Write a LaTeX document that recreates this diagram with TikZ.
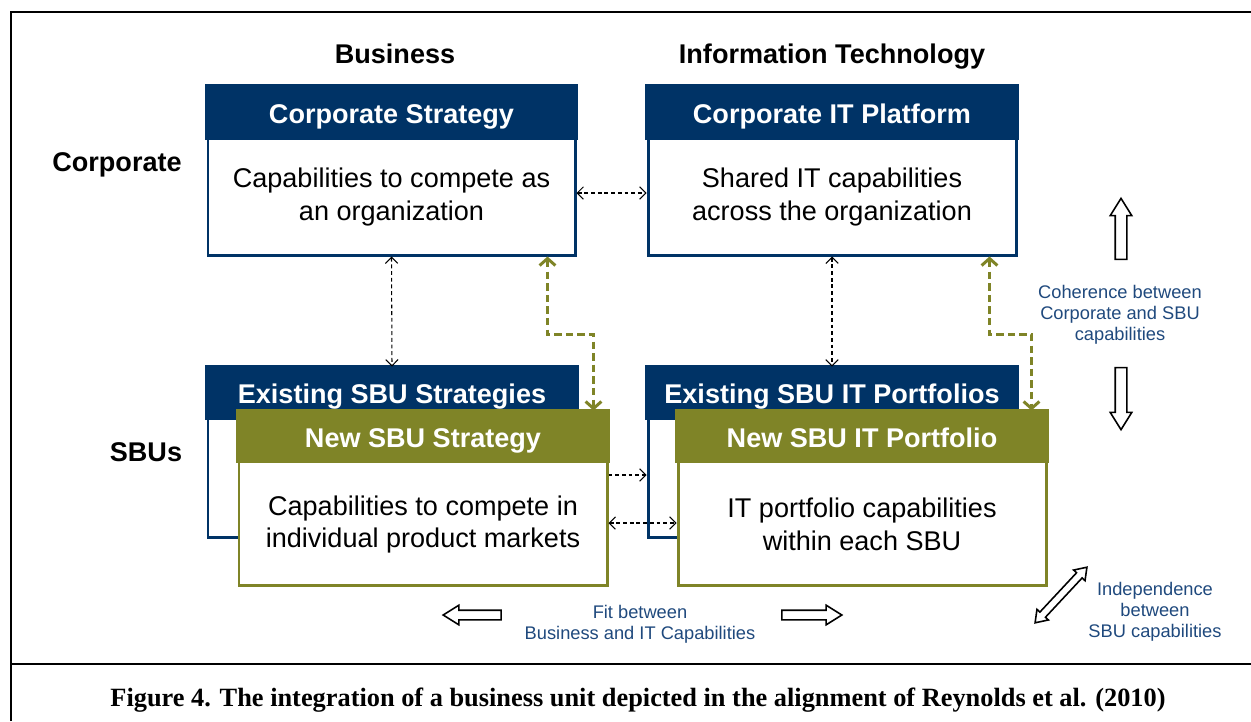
\documentclass[tikz,border=0pt]{standalone}
\usepackage{fontspec}
\setmainfont{Liberation Sans}
\newfontfamily\capfont{Liberation Serif}
\usetikzlibrary{arrows.meta,shapes.arrows,calc}
\definecolor{navy}{RGB}{0,51,102}
\definecolor{olivegr}{RGB}{127,132,39}
\definecolor{lblue}{RGB}{31,73,125}
\tikzset{
  x=0.02cm, y=-0.02cm,
  boxst/.style={draw, line width=1.7pt, fill=white, inner sep=0pt},
  titlest/.style={text=white, anchor=base, font=\fontsize{15.4}{18.7}\selectfont\bfseries},
  bodyst/.style={align=center, font=\fontsize{15.4}{18.7}\selectfont},
  headst/.style={anchor=base, font=\fontsize{15.4}{18.7}\selectfont\bfseries},
  notest/.style={align=center, text=lblue, font=\fontsize{10.4}{12}\selectfont},
  thin/.style={black, line width=0.6pt, dash pattern=on 2.2pt off 1.6pt, {Straight Barb[length=3.5pt,width=7pt]}-{Straight Barb[length=3.5pt,width=7pt]}},
  thinr/.style={black, line width=0.6pt, dash pattern=on 2.2pt off 1.6pt, -{Straight Barb[length=3.5pt,width=7pt]}},
  grn/.style={olivegr, line width=1.7pt, dash pattern=on 4.2pt off 2.4pt, {Straight Barb[length=4pt,width=9pt]}-{Straight Barb[length=4pt,width=9pt]}},
  fat/.style={single arrow, draw=black, fill=white, line width=0.9pt, inner sep=0.1cm, single arrow head extend=0.1cm, single arrow tip angle=64},
  fatd/.style={double arrow, draw=black, fill=white, line width=0.9pt, inner sep=0.06cm, double arrow head extend=0.08cm, double arrow tip angle=70},
}
% #1 name, #2 center, #3 width px, #4 height px, #5 colour, #6 title, #7 body, #8 header height px
\newcommand\mybox[8]{%
  \node[boxst, draw=#5, minimum width=#3*0.02cm, minimum height=#4*0.02cm] (#1) at #2 {};
  \filldraw[#5, line width=1.7pt] (#1.north west) rectangle ($(#1.north east)+(0,#8)$);
  \node[titlest] at ($(#1.north)+(0,#8*0.72)$) {#6};
  \node[bodyst] at ($(#1.center)+(0,26)$) {#7};
}
\begin{document}
\begin{tikzpicture}
\useasboundingbox (0,0) rectangle (1251,721);
% frame
\draw[line width=1.3pt] (11,721) -- (11,12) -- (1251,12);
\draw[line width=1.3pt] (11,664) -- (1251,664);
% headings
\node[headst] (hb) at (395,63) {Business};
\node[headst] (hit) at (832,63) {Information Technology};
\node[headst] (hc) at (117,171) {Corporate};
\node[headst] (hs) at (146,461) {SBUs};
% boxes
\mybox{cs}{(391.5,171)}{367}{168}{navy}{Corporate Strategy}{Capabilities to compete as\\an organization}{53}
\mybox{cit}{(832,171)}{368}{168}{navy}{Corporate IT Platform}{Shared IT capabilities\\across the organization}{53}
\mybox{es}{(392,452.5)}{368}{169}{navy}{Existing SBU Strategies}{}{52}
\mybox{eit}{(832,452.5)}{368}{169}{navy}{Existing SBU IT Portfolios}{}{52}
\mybox{ns}{(423,498.5)}{368}{173}{olivegr}{New SBU Strategy}{Capabilities to compete in\\individual product markets}{51}
\mybox{nit}{(862,498.5)}{368}{173}{olivegr}{New SBU IT Portfolio}{IT portfolio capabilities\\within each SBU}{51}
% thin connectors
\draw[thin] ($(cs.east)+(0,22)$) -- ($(cit.west)+(0,22)$);
\draw[thin] (cs.south) -- (es.north);
\draw[thin] (cit.south) -- (eit.north);
\coordinate (p1) at ($(ns.east)+(0,-23.5)$);
\draw[thinr] (p1) -- (p1 -| eit.west);
\coordinate (p2) at ($(ns.east)+(0,24.5)$);
\draw[thin] (p2) -- (p2 -| nit.west);
% green connectors
\draw[grn] ($(cs.south east)+(-29,0)$) -- ++(0,78) -| ($(ns.north east)+(-15,0)$);
\draw[grn] ($(cit.south east)+(-28,0)$) -- ++(0,78) -| ($(nit.north east)+(-16,0)$);
% fat arrows
\node[fat, minimum height=61*0.02cm, rotate=90] (up) at (1121,233.5) {};
\node[fat, minimum height=62*0.02cm, rotate=-90] (dn) at (1121,394) {};
\node[notest] (coh) at (1120,315) {Coherence between\\Corporate and SBU\\capabilities};
\node[fat, minimum height=58*0.02cm, rotate=180, inner sep=0.08cm] (fl) at (476,615) {};
\node[fat, minimum height=60*0.02cm, inner sep=0.08cm] (fr) at (808,615) {};
\node[notest] (fit) at (640,624.5) {Fit between\\Business and IT Capabilities};
\node[fatd, minimum height=76*0.02cm, rotate=47] (dg) at (1061,595) {};
\node[notest] (ind) at (1155,612) {Independence\\between\\SBU capabilities};
% caption
\node[font=\capfont\bfseries\fontsize{15}{17}\selectfont] (cap) at (638,700) {Figure 4. The integration of a business unit depicted in the alignment of Reynolds et al. (2010)};
\end{tikzpicture}
\end{document}
